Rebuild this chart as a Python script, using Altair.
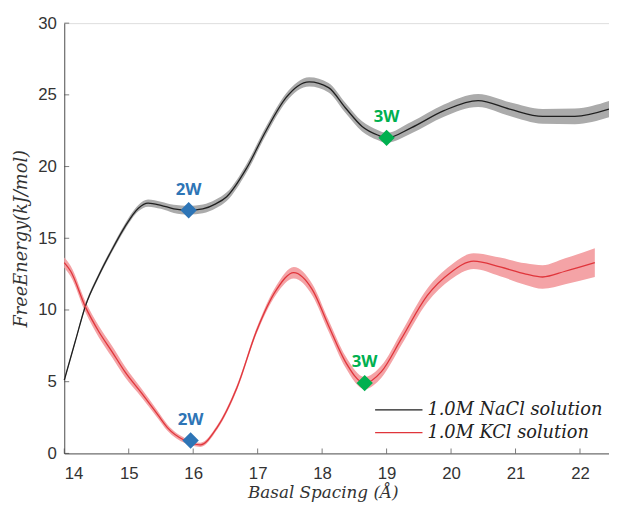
import altair as alt
import pandas as pd

# ---- data ----
x_na = [14.0, 14.17, 14.33, 14.535, 14.74, 14.94, 15.15, 15.3, 15.5, 15.7, 15.93, 16.15, 16.35,
        16.52, 16.83, 17.13, 17.44, 17.62, 17.8, 18.1, 18.36, 18.62, 18.86, 19.0,
        19.38, 19.89, 20.42, 20.91, 21.42, 21.92, 22.45]
y_na = [5.1, 7.8, 10.3, 12.4, 14.2, 15.8, 17.1, 17.45, 17.3, 17.05, 16.95, 17.05, 17.4,
        17.9, 19.9, 22.5, 24.8, 25.6, 25.9, 25.5, 24.1, 22.8, 22.2, 22.0,
        22.7, 23.9, 24.6, 24.0, 23.5, 23.5, 24.0]
e_na = [0.1, 0.12, 0.15, 0.16, 0.18, 0.2, 0.22, 0.25, 0.25, 0.28, 0.3, 0.3, 0.3,
        0.3, 0.3, 0.3, 0.3, 0.3, 0.32, 0.33, 0.35, 0.35, 0.35, 0.35,
        0.4, 0.42, 0.45, 0.48, 0.52, 0.55, 0.57]

x_k = [14.0, 14.1, 14.33, 14.535, 14.74, 14.94, 15.2, 15.45, 15.6, 15.87, 16.11, 16.37, 16.68, 16.98,
       17.29, 17.56, 17.85, 18.1, 18.36, 18.66, 18.92, 19.23, 19.63, 19.99, 20.35,
       20.76, 21.16, 21.42, 21.77, 22.23]
y_k = [13.3, 12.7, 10.2, 8.5, 7.1, 5.7, 4.2, 2.7, 1.8, 0.9, 0.6, 1.8, 4.6, 8.5,
       11.4, 12.6, 11.4, 8.9, 6.4, 4.9, 5.7, 8.0, 11.0, 12.6, 13.4,
       13.0, 12.5, 12.3, 12.7, 13.3]
e_k = [0.35, 0.36, 0.38, 0.4, 0.4, 0.38, 0.3, 0.25, 0.22, 0.18, 0.15, 0.15, 0.18, 0.2,
       0.3, 0.4, 0.4, 0.4, 0.4, 0.42, 0.42, 0.45, 0.48, 0.5, 0.55,
       0.65, 0.75, 0.82, 0.9, 1.0]

series_names = ["1.0M NaCl solution", "1.0M KCl solution"]

mark_x = [15.93, 19.0, 15.96, 18.66]
mark_y = [16.95, 22.0, 0.9, 4.9]
mark_lbl = ["2W", "3W", "2W", "3W"]
mark_col = ["#2e75b6", "#00b050", "#2e75b6", "#00b050"]

x_ticks = [14, 15, 16, 17, 18, 19, 20, 21, 22]
y_ticks = [0, 5, 10, 15, 20, 25, 30]

# ---- tables ----
rows = []
for x, y, e in zip(x_na, y_na, e_na):
    rows.append({"x": x, "y": y, "lo": y - e, "hi": y + e, "s": series_names[0]})
for x, y, e in zip(x_k, y_k, e_k):
    rows.append({"x": x, "y": y, "lo": y - e, "hi": y + e, "s": series_names[1]})
df = pd.DataFrame(rows)
mk = pd.DataFrame({"x": mark_x, "y": mark_y, "lbl": mark_lbl, "c": mark_col})
xt = pd.DataFrame({"v": x_ticks})
yt = pd.DataFrame({"v": y_ticks})

xs = alt.Scale(domain=[14, 22.45], nice=False, zero=False)
ys = alt.Scale(domain=[0, 30], nice=False)

xaxis = alt.Axis(values=x_ticks, format="d", ticks=False, grid=False, labelFont="Liberation Sans",
                 labelFontSize=17, labelColor="#333333", labelPadding=12,
                 domainColor="#555555", title="Basal Spacing (Å)",
                 titleFont="DejaVu Serif", titleFontStyle="italic", titleFontWeight="normal",
                 titleFontSize=17, titleColor="#333333", titlePadding=4, titleX=262)
yaxis = alt.Axis(values=y_ticks, format="d", ticks=False, grid=False, labelFont="Liberation Sans",
                 labelFontSize=17, labelColor="#333333", labelPadding=8,
                 domainColor="#555555", title="FreeEnergy(kJ/mol)",
                 titleFont="DejaVu Serif", titleFontStyle="italic", titleFontWeight="normal",
                 titleFontSize=18, titleColor="#333333", titlePadding=7)

base = alt.Chart(df)

band = base.mark_area(interpolate="monotone", opacity=1).encode(
    x=alt.X("x:Q", scale=xs, axis=xaxis),
    y=alt.Y("lo:Q", scale=ys, axis=yaxis),
    y2="hi:Q",
    fill=alt.Fill("s:N", scale=alt.Scale(domain=series_names, range=["#ababab", "#f4a3a6"]),
                  legend=None),
    detail="s:N",
)

lines = base.mark_line(interpolate="monotone", strokeWidth=1.3).encode(
    x=alt.X("x:Q", scale=xs),
    y=alt.Y("y:Q", scale=ys),
    color=alt.Color("s:N", scale=alt.Scale(domain=series_names, range=["#1f1f1f", "#e0353b"]),
                    sort=series_names,
                    legend=alt.Legend(title=None, orient="none", legendX=330, legendY=383,
                                      symbolType="M-4,0H4", symbolSize=144, symbolStrokeWidth=1.3,
                                      labelFont="DejaVu Serif", labelFontStyle="italic",
                                      labelFontSize=18, labelColor="#222222", rowPadding=5,
                                      labelOffset=20, labelLimit=400, padding=0)),
)

pts = alt.Chart(mk).mark_point(shape="diamond", filled=True, size=190, opacity=1).encode(
    x=alt.X("x:Q", scale=xs),
    y=alt.Y("y:Q", scale=ys),
    fill=alt.Fill("c:N", scale=None),
    stroke=alt.Stroke("c:N", scale=None),
)

lbls = alt.Chart(mk).mark_text(dy=-21, font="Open Sans", fontWeight="bold", fontSize=17).encode(
    x=alt.X("x:Q", scale=xs),
    y=alt.Y("y:Q", scale=ys),
    text="lbl:N",
    fill=alt.Fill("c:N", scale=None),
)

xtick = alt.Chart(xt).mark_tick(orient="vertical", size=5, thickness=1, color="#444444", yOffset=-2.5).encode(
    x=alt.X("v:Q", scale=xs),
    y=alt.datum(0, scale=ys),
)
ytick = alt.Chart(yt).mark_tick(orient="horizontal", size=5, thickness=1, color="#444444", xOffset=2.5).encode(
    y=alt.Y("v:Q", scale=ys),
    x=alt.datum(14, scale=xs),
)

chart = alt.layer(band, lines, pts, lbls, xtick, ytick).resolve_scale(
    color="independent", fill="independent", stroke="independent"
).properties(
    width=552, height=436,
    autosize=alt.AutoSizeParams(type="none"),
    padding={"left": 57, "top": 12, "right": 0, "bottom": 52},
).configure_view(stroke=None).configure(background="white")

chart.save("out.html", embed_options={"renderer": "svg", "actions": False})
